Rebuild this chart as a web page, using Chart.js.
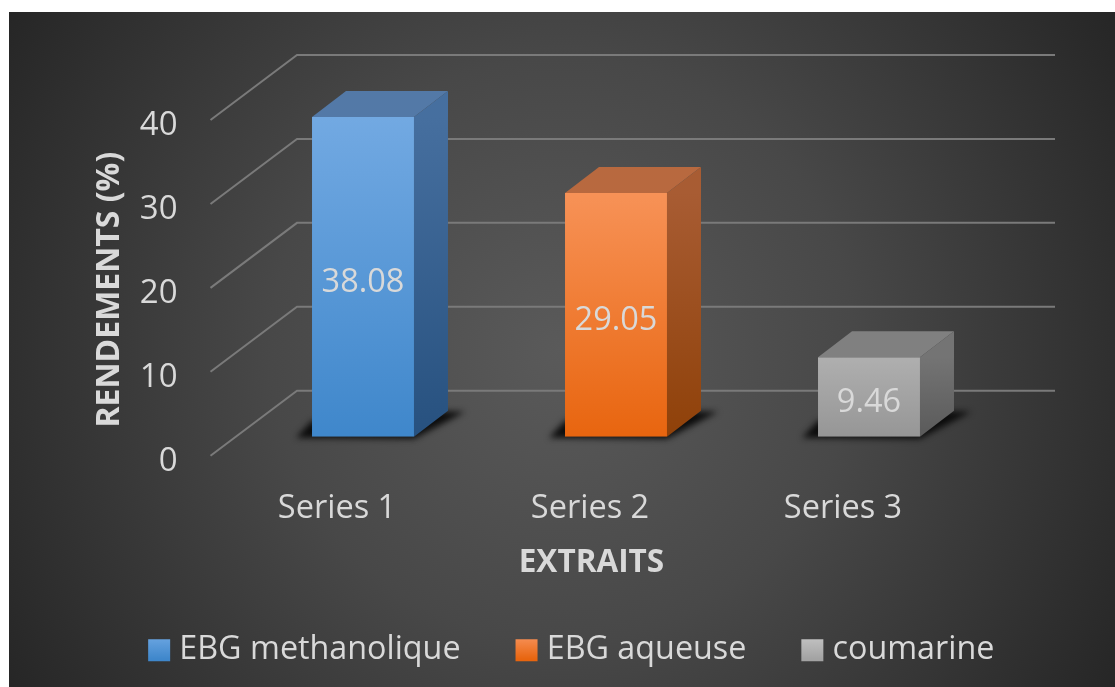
<!DOCTYPE html>
<html><head><meta charset="utf-8">
<style>
html,body{margin:0;padding:0;background:#fff;overflow:hidden}
#wrap{position:absolute;left:9px;top:12px;width:1106px;height:675px;}
canvas{display:block}
</style>
<script src="https://cdn.jsdelivr.net/npm/chart.js@4"></script>
</head><body>
<div id="wrap"><canvas id="c" width="1106" height="675"></canvas></div>
<script>
const categories = ["Series 1", "Series 2", "Series 3"];
const seriesNames = ["EBG methanolique", "EBG aqueuse", "coumarine"];
const methanolique = [38.08, null, null];
const aqueuse = [null, 29.05, null];
const coumarine = [null, null, 9.46];
const yTicks = [0, 10, 20, 30, 40];

const FONT = '"Open Sans", sans-serif';
const DX = 34, DY = -26;               // bar depth
const WALL_DX = 60.5, WALL_DY = -46;   // bar plane -> back wall
const FRONT_DX = -26, FRONT_DY = 19;   // bar plane -> front edge of floor
const RIGHT = 1046;
const LEGEND_SHIFT_X = 72.5, LEGEND_TOP = 560;

const palettes = [
  {front:['#72A9E2','#3F87CB'], top:'#5379A7', side:['#466F9F','#27517F'], legend:['#6CA6E2','#3F87CB']},
  {front:['#F79257','#E8650F'], top:'#B8693F', side:['#A85C33','#8F4109'], legend:['#F7925A','#E8650F']},
  {front:['#AFAFAF','#969696'], top:'#808080', side:['#747474','#5A5A5A'], legend:['#C4C4C4','#A3A3A3']}
];

function vgrad(ctx, y0, y1, cols){
  const g = ctx.createLinearGradient(0, y0, 0, y1);
  g.addColorStop(0, cols[0]); g.addColorStop(1, cols[1]);
  return g;
}

const backdrop = {
  id:'backdrop',
  beforeDraw(chart){
    const {ctx, width, height} = chart;
    ctx.save();
    const cx = width*0.5, cy = height*0.5;
    const r = Math.hypot(cx, cy);
    const g = ctx.createRadialGradient(cx, cy, 0, cx, cy, r);
    g.addColorStop(0, '#5A5A5A');
    g.addColorStop(0.45, '#484848');
    g.addColorStop(1, '#262626');
    ctx.fillStyle = g;
    ctx.fillRect(0, 0, width, height);
    ctx.restore();
  }
};

const legendPlace = {
  id:'legendPlace',
  afterLayout(chart){
    const l = chart.legend;
    if (!l) return;
    const h = l.bottom - l.top;
    l.top = LEGEND_TOP; l.bottom = LEGEND_TOP + h;
    l.left += LEGEND_SHIFT_X; l.right += LEGEND_SHIFT_X;
  }
};

const walls = {
  id:'walls',
  beforeDatasetsDraw(chart){
    const {ctx, scales:{y}} = chart;
    const x0 = chart.chartArea.left;
    ctx.save();
    ctx.strokeStyle = '#7A7A7A';
    ctx.lineWidth = 2;
    yTicks.forEach(v => {
      const p = y.getPixelForValue(v);
      ctx.beginPath();
      ctx.moveTo(x0 + FRONT_DX, p + FRONT_DY);
      ctx.lineTo(x0 + WALL_DX, p + WALL_DY);
      ctx.lineTo(RIGHT, p + WALL_DY);
      ctx.stroke();
    });
    ctx.restore();
    chart.data.datasets.forEach((ds, i) => {
      const el = chart.getDatasetMeta(i).data[ds.data.findIndex(v => v !== null)];
      if (!el) return;
      const L = el.x - el.width/2, R = el.x + el.width/2, B = el.base;
      ctx.save();
      ctx.filter = 'blur(3px)';
      ctx.fillStyle = 'rgba(8,8,8,0.95)';
      ctx.beginPath();
      ctx.moveTo(L - 16, B + 1);
      ctx.lineTo(R, B + 2);
      ctx.lineTo(R + DX + 17, B + DY + 1);
      ctx.lineTo(R, B + DY);
      ctx.lineTo(L, B - 16);
      ctx.closePath();
      ctx.fill();
      ctx.restore();
    });
  }
};

const depth = {
  id:'depth',
  afterDatasetsDraw(chart){
    const {ctx} = chart;
    chart.data.datasets.forEach((ds, i) => {
      const idx = ds.data.findIndex(v => v !== null);
      const el = chart.getDatasetMeta(i).data[idx];
      if (!el) return;
      const L = el.x - el.width/2, R = el.x + el.width/2, T = el.y, B = el.base;
      const pal = palettes[i];
      ctx.save();
      ctx.fillStyle = pal.top;
      ctx.beginPath();
      ctx.moveTo(L, T); ctx.lineTo(L + DX, T + DY); ctx.lineTo(R + DX, T + DY); ctx.lineTo(R, T);
      ctx.closePath(); ctx.fill();
      ctx.fillStyle = vgrad(ctx, T, B, pal.side);
      ctx.beginPath();
      ctx.moveTo(R, T); ctx.lineTo(R + DX, T + DY); ctx.lineTo(R + DX, B + DY); ctx.lineTo(R, B);
      ctx.closePath(); ctx.fill();
      ctx.fillStyle = '#D9D9D9';
      ctx.font = '400 32.5px ' + FONT;
      ctx.textAlign = 'center';
      ctx.textBaseline = 'middle';
      ctx.fillText(ds.data[idx].toFixed(2), el.x, (T + B)/2 + 5.5);
      ctx.restore();
    });
  }
};

const ctx = document.getElementById('c').getContext('2d');
const mk = (label, data, i) => ({
  label, data, grouped:false, borderWidth:0,
  backgroundColor(c){
    const s = c.chart.scales && c.chart.scales.y;
    if (!s || c.raw === null || c.raw === undefined) return palettes[i].front[1];
    return vgrad(c.chart.ctx, s.getPixelForValue(c.raw), s.getPixelForValue(0), palettes[i].front);
  }
});

new Chart(ctx, {
  type:'bar',
  data:{
    labels:categories,
    datasets:[mk(seriesNames[0], methanolique, 0), mk(seriesNames[1], aqueuse, 1), mk(seriesNames[2], coumarine, 2)]
  },
  options:{
    responsive:false,
    animation:false,
    events:[],
    barPercentage:1,
    categoryPercentage:0.403,
    layout:{padding:{left:0, right:119.5, top:89, bottom:13}},
    plugins:{
      tooltip:{enabled:false},
      legend:{
        position:'bottom',
        labels:{
          color:'#D9D9D9',
          font:{family:FONT, size:32.3},
          boxWidth:8, boxHeight:8, padding:62,
          generateLabels(chart){
            return chart.data.datasets.map((d, i) => {
              const g = vgrad(chart.ctx, 624, 647, palettes[i].legend);
              return {text:d.label, fillStyle:g, strokeStyle:g, lineWidth:14, fontColor:'#D9D9D9', datasetIndex:i};
            });
          }
        }
      }
    },
    scales:{
      x:{
        grid:{display:false},
        border:{display:false},
        afterFit(s){ s.height = 133; },
        ticks:{color:'#D9D9D9', font:{family:FONT, size:32.5}, padding:45, labelOffset:-26},
        title:{display:true, text:'EXTRAITS      ', color:'#D9D9D9', font:{family:FONT, size:31.5, weight:'bold'}, padding:{top:0, bottom:-12}}
      },
      y:{
        min:0, max:40,
        grid:{display:false},
        border:{display:false},
        afterFit(s){ s.width = 227.5; },
        afterBuildTicks(s){ s.ticks = yTicks.map(v => ({value:v})); },
        ticks:{color:'#D9D9D9', font:{family:FONT, size:33}, padding:51, labelOffset:25},
        title:{display:true, text:'RENDEMENTS (%)     ', color:'#D9D9D9', font:{family:FONT, size:32, weight:'bold'}, padding:{top:82, bottom:0}}
      }
    }
  },
  plugins:[backdrop, legendPlace, walls, depth]
});
</script>
</body></html>
